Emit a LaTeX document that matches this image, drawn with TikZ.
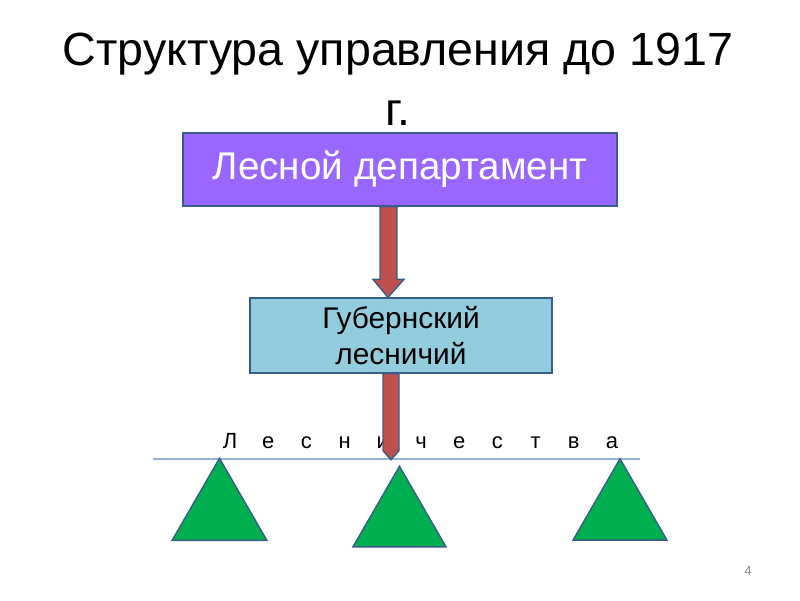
\documentclass[tikz,border=0pt]{standalone}
\usepackage{fontspec}
\setmainfont{Liberation Sans}
\usetikzlibrary{positioning,calc,shapes.geometric}

\definecolor{deptviolet}{HTML}{9966FF}
\definecolor{gubblue}{HTML}{93CDDD}
\definecolor{arrred}{HTML}{C0504D}
\definecolor{edgeblue}{HTML}{385D8A}
\definecolor{lineblue}{HTML}{95B3D7}
\definecolor{forestgreen}{HTML}{00B050}

\begin{document}
\begin{tikzpicture}[
  x=0.02cm, y=-0.02cm,
  title/.style={font=\fontsize{26.5}{34}\selectfont, align=center},
  box/.style={draw=edgeblue, line width=0.8pt, align=center, inner sep=0pt},
  deptbox/.style={box, fill=deptviolet, text=white, minimum width=8.68cm,
    minimum height=1.46cm, font=\fontsize{22}{26}\selectfont},
  gubbox/.style={box, fill=gubblue, minimum width=6.04cm,
    minimum height=1.5cm, font=\fontsize{17}{20.5}\selectfont},
  bigarr/.style={draw=edgeblue, line width=0.8pt, fill=arrred},
  letter/.style={font=\fontsize{12.5}{15}\selectfont, anchor=base, inner sep=0pt},
  forestry/.style={regular polygon, regular polygon sides=3, draw=edgeblue,
    line width=0.8pt, fill=forestgreen, inner sep=0pt}
]
  \useasboundingbox (0,0) rectangle (800,600);

  \node[title] (head) at (398,79) {Структура управления до 1917\\г.};

  \node[deptbox] (dept) at (400,169.5) {Лесной департамент};
  \node[gubbox] (gub) at (401,335.5) {Губернский\\лесничий};

  % dept -> gub
  \draw[bigarr] ($(dept.south)+(-20,0)$) -- ($(gub.north)+(-21,-18)$)
    -- ($(gub.north)+(-28,-18)$) -- ($(gub.north)+(-13,0)$)
    -- ($(gub.north)+(3,-18)$) -- ($(gub.north)+(-4,-18)$)
    -- ($(dept.south)+(-3,0)$) -- cycle;

  % line of forestries
  \coordinate (rowL) at (153,459);
  \coordinate (rowR) at (640,459);
  \draw[lineblue, line width=0.9pt] (rowL) -- (rowR);

  \foreach \l [count=\i from 0] in {Л,е,с,н,и,ч,е,с,т,в,а}
    \node[letter] (let\i) at (230+38.2*\i,448) {\l};

  % gub -> forestries
  \draw[bigarr] ($(gub.south)+(-18,0)$) -- ($(gub.south)+(-18,77)$)
    -- ($(gub.south)+(-10,86)$) -- ($(gub.south)+(-2,77)$)
    -- ($(gub.south)+(-2,0)$) -- cycle;

  \node[forestry, minimum size=2.19cm] (f1) at (219.5,513) {};
  \node[forestry, minimum size=2.15cm] (f2) at (399.5,520) {};
  \node[forestry, minimum size=2.17cm] (f3) at (620,513) {};

  \node[font=\fontsize{7.5}{9}\selectfont, text=black!45] (pgno) at (748,571) {4};
\end{tikzpicture}
\end{document}
